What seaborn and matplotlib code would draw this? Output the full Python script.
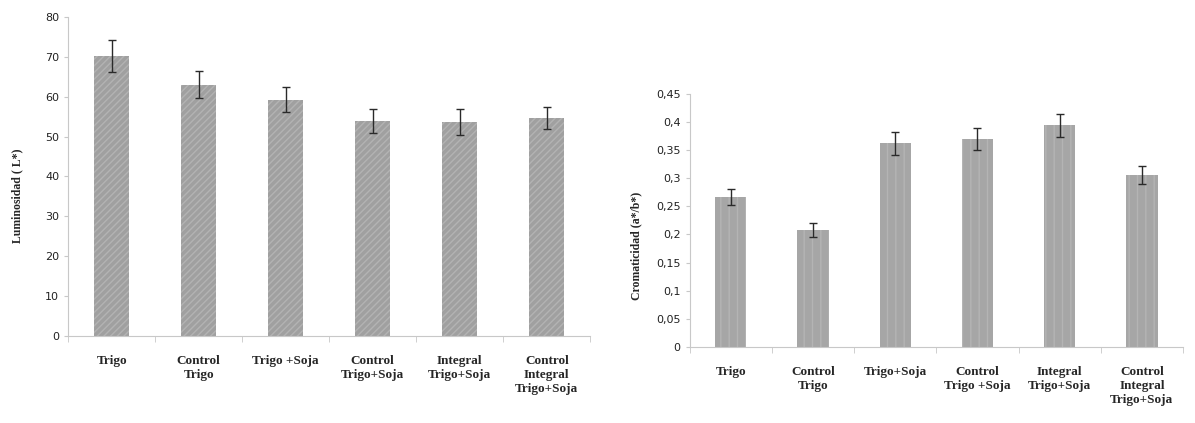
import numpy as np
import pandas as pd
import matplotlib
matplotlib.use("Agg")
import matplotlib.pyplot as plt
import seaborn as sns

# data
labels_left = ["Trigo", "Control\nTrigo", "Trigo +Soja", "Control\nTrigo+Soja",
               "Integral\nTrigo+Soja", "Control\nIntegral\nTrigo+Soja"]
lum = [70.1, 63.0, 59.2, 53.9, 53.6, 54.7]
lum_err = [4.0, 3.4, 3.1, 3.0, 3.2, 2.8]

labels_right = ["Trigo", "Control\nTrigo", "Trigo+Soja", "Control\nTrigo +Soja",
                "Integral\nTrigo+Soja", "Control\nIntegral\nTrigo+Soja"]
crom = [0.266, 0.208, 0.362, 0.370, 0.394, 0.306]
crom_err = [0.014, 0.012, 0.021, 0.019, 0.021, 0.016]

sns.set_style("white")
plt.rcParams["font.family"] = ["Liberation Serif", "DejaVu Serif"]

fig = plt.figure(figsize=(11.95, 4.23), dpi=100)
ax1 = fig.add_axes([0.057, 0.206, 0.437, 0.754])
ax2 = fig.add_axes([0.577, 0.180, 0.413, 0.598])

df1 = pd.DataFrame({"cat": labels_left, "val": lum})
df2 = pd.DataFrame({"cat": labels_right, "val": crom})

sns.barplot(data=df1, x="cat", y="val", ax=ax1, color="#a0a0a0",
            width=0.4, errorbar=None, saturation=1)
for b in ax1.patches:
    b.set_hatch("/////")
    b.set_edgecolor("#b3b3b3")
    b.set_linewidth(0)
ax1.errorbar(range(len(lum)), lum, yerr=lum_err, fmt="none",
             ecolor="#2a2a2a", elinewidth=1, capsize=3)

sns.barplot(data=df2, x="cat", y="val", ax=ax2, color="#a6a6a6",
            width=0.38, errorbar=None, saturation=1)
for b in ax2.patches:
    b.set_hatch("||")
    b.set_edgecolor("#b4b4b4")
    b.set_linewidth(0)
ax2.errorbar(range(len(crom)), crom, yerr=crom_err, fmt="none",
             ecolor="#2a2a2a", elinewidth=1, capsize=3)

ax1.set_ylim(0, 80)
ax1.set_yticks(np.arange(0, 81, 10))
ax2.set_ylim(0, 0.45)
yt2 = np.arange(0, 0.451, 0.05)
ax2.set_yticks(yt2)
ax2.set_yticklabels(["0"] + [("%g" % round(v, 2)).replace(".", ",") for v in yt2[1:]])

ax1.set_ylabel("Luminosidad ( L*)", fontsize=8.5, fontweight="bold")
ax2.set_ylabel("Cromaticidad (a*/b*)", fontsize=8.5, fontweight="bold")
ax1.yaxis.set_label_coords(-0.085, 0.44)
ax2.yaxis.set_label_coords(-0.095, 0.4)

for ax, n in [(ax1, len(lum)), (ax2, len(crom))]:
    ax.set_xlabel("")
    ax.set_xlim(-0.5, n - 0.5)
    sns.despine(ax=ax)
    ax.spines["left"].set_color("#c8c8c8")
    ax.spines["bottom"].set_color("#c8c8c8")
    ax.tick_params(axis="y", labelsize=8, length=3, color="#c8c8c8", left=True,
                   labelcolor="#222222")
    for t in ax.get_yticklabels():
        t.set_family(["DejaVu Sans"])
    ax.tick_params(axis="x", length=0, pad=14, labelsize=9.5)
    for t in ax.get_xticklabels():
        t.set_fontweight("bold")
        t.set_verticalalignment("top")
    ax.set_xticks(np.arange(-0.5, n), minor=True)
    ax.tick_params(axis="x", which="minor", length=4, color="#c8c8c8", bottom=True)

fig.savefig("out.png", dpi=100)
